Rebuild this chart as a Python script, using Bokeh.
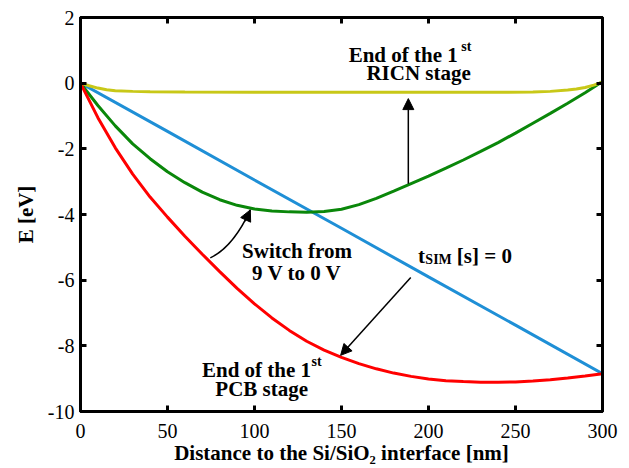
from bokeh.plotting import figure
from bokeh.models import Range1d, LinearAxis, FixedTicker, Arrow, NormalHead
from bokeh.core.properties import value
from bokeh.embed import file_html
from bokeh.resources import INLINE

# ---- data ----
x_grid = [0, 10, 20, 30, 40, 50, 60, 70, 80, 90, 100, 110, 120, 130, 140, 150,
          160, 170, 180, 190, 200, 210, 220, 230, 240, 250, 260, 270, 280, 290, 300]
e_pcb = [0, -1.05, -1.97, -2.77, -3.47, -4.08, -4.66, -5.21, -5.74, -6.25, -6.72, -7.15,
         -7.53, -7.86, -8.13, -8.35, -8.54, -8.7, -8.83, -8.93, -9.01, -9.06, -9.09, -9.11,
         -9.11, -9.1, -9.07, -9.03, -8.98, -8.92, -8.85]
e_switch = [0, -0.68, -1.3, -1.85, -2.3, -2.7, -3.03, -3.32, -3.55, -3.72, -3.83, -3.89,
            -3.92, -3.93, -3.91, -3.84, -3.7, -3.51, -3.29, -3.06, -2.83, -2.59, -2.34,
            -2.08, -1.81, -1.52, -1.22, -0.92, -0.61, -0.29, 0.05]
x_t0 = [0, 50, 100, 150, 200, 250, 300]
e_t0 = [0, -1.47, -2.95, -4.42, -5.9, -7.37, -8.85]
x_ricn = [0, 5, 10, 15, 20, 30, 40, 60, 100, 150, 200, 240, 260, 270, 280, 285, 290, 295, 300]
e_ricn = [0, -0.08, -0.15, -0.2, -0.23, -0.25, -0.26, -0.27, -0.28, -0.28, -0.28, -0.28,
          -0.27, -0.25, -0.21, -0.18, -0.13, -0.06, 0.03]

x_ticks = [0, 50, 100, 150, 200, 250, 300]
y_ticks = [-10, -8, -6, -4, -2, 0, 2]
y_tick_labels = ["-10", "-8", "-6", "-4", "-2", "0", "2"]
x_label = "Distance to the Si/SiO\u2082 interface [nm]"
y_label = "E [eV]"

FONT = "Liberation Serif"
RED, GREEN, BLUE, YELLOW = "#ff0000", "#0a870a", "#1f8fd6", "#c8c818"

p = figure(width=629, height=468, output_backend="svg", toolbar_location=None,
           x_range=Range1d(0, 300), y_range=Range1d(-10, 2),
           min_border_left=80, min_border_right=27, min_border_top=17, min_border_bottom=57)
p.background_fill_color = "white"
p.border_fill_color = "white"
p.grid.visible = False
p.outline_line_color = "black"
p.outline_line_width = 3

for ax, ticks in ((p.xaxis[0], x_ticks), (p.yaxis[0], y_ticks)):
    ax.ticker = FixedTicker(ticks=ticks)
    ax.axis_line_width = 3
    ax.major_tick_in = 6
    ax.major_tick_out = 0
    ax.major_tick_line_width = 3
    ax.minor_tick_line_color = None
    ax.major_label_text_font = FONT
    ax.major_label_text_font_size = "20px"
    ax.major_label_text_color = "black"
    ax.axis_label_text_font = FONT
    ax.axis_label_text_font_size = "21px"
    ax.axis_label_text_font_style = "bold"
    ax.axis_label_text_color = "black"
p.yaxis.major_label_overrides = {t: s for t, s in zip(y_ticks, y_tick_labels)}
p.xaxis.axis_label = x_label
p.yaxis.axis_label = y_label
p.xaxis.major_label_standoff = 12
p.xaxis.axis_label_standoff = 0
p.yaxis.major_label_standoff = 6
p.yaxis.axis_label_standoff = 7

for loc, ticks in (("above", x_ticks), ("right", y_ticks)):
    ax = LinearAxis(ticker=FixedTicker(ticks=ticks), axis_line_width=3,
                    major_tick_in=6, major_tick_out=0, major_tick_line_width=3,
                    minor_tick_line_color=None, major_label_text_font_size="0px",
                    major_label_standoff=0)
    p.add_layout(ax, loc)

p.line(x_t0, e_t0, line_color=BLUE, line_width=3)
p.line(x_grid, e_switch, line_color=GREEN, line_width=3)
p.line(x_grid, e_pcb, line_color=RED, line_width=3)
p.line(x_ricn, e_ricn, line_color=YELLOW, line_width=3)

# ---- annotations ----
DY = 0.23  # baseline correction for the svg text renderer

def txt(x, y, s, size="21px", align="left", bold=True):
    p.text(x=[x], y=[y + DY], text=[s], text_font=value(FONT), text_font_size=size,
           text_font_style="bold" if bold else "normal", text_align=align,
           text_baseline="alphabetic", text_color="black")

txt(154.1, 0.63, "End of the 1")
txt(218.8, 0.88, "st", size="14px")
txt(164.3, 0.07, "RICN stage")

txt(124.4, -5.35, "Switch from", align="center")
txt(124.4, -6.01, "9 V to 0 V", align="center")

txt(194.0, -5.5, "t")
txt(198.2, -5.6, "SIM", size="14px")
txt(216.3, -5.5, "[s] = 0")

txt(69.8, -8.96, "End of the 1")
txt(132.8, -8.72, "st", size="14px")
txt(77.5, -9.53, "PCB stage")

head = dict(size=11, fill_color="black", line_color="black", line_width=1)
p.add_layout(Arrow(end=NormalHead(**head), x_start=188.4, y_start=-3.06,
                   x_end=188.4, y_end=-0.47, line_width=1.5, line_color="black"))
p.add_layout(Arrow(end=NormalHead(**head), x_start=189.8, y_start=-5.92,
                   x_end=149.5, y_end=-8.29, line_width=1.5, line_color="black"))
p.quadratic(x0=[74.6], y0=[-5.32], x1=[97.6], y1=[-3.86], cx=[87.8], cy=[-4.99],
            line_color="black", line_width=1.5)
p.add_layout(Arrow(end=NormalHead(**head), x_start=94.6, y_start=-4.2,
                   x_end=97.6, y_end=-3.86, line_width=1.5, line_color="black"))

open("out.html", "w").write(file_html(p, INLINE))
